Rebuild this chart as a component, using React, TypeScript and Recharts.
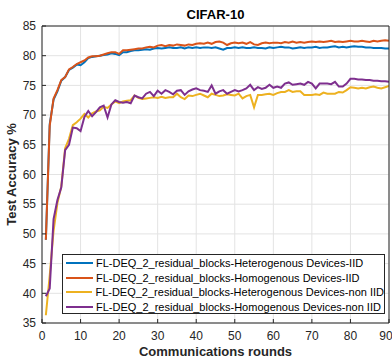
import React from 'react';
import { LineChart, Line, XAxis, YAxis, CartesianGrid, Legend } from 'recharts';

// communication rounds 1..90
const rounds = Array.from({ length: 90 }, (_, i) => i + 1);

const hetIID = [
  49.0, 68.5, 72.6, 74.0, 75.8, 76.4, 77.6, 78.0, 78.5, 78.4,
  78.9, 79.6, 79.8, 79.9, 80.0, 80.1, 80.2, 80.4, 80.3, 80.1,
  80.6, 80.6, 80.8, 80.9, 80.9, 81.0, 81.1, 81.0, 81.2, 81.3,
  81.2, 81.3, 81.4, 81.3, 81.3, 81.4, 81.2, 81.4, 81.3, 81.4,
  81.3, 81.4, 81.4, 81.3, 81.4, 81.2, 81.0, 81.3, 81.3, 81.4,
  81.3, 81.4, 81.3, 81.3, 81.4, 81.3, 81.3, 81.2, 81.4, 81.3,
  81.4, 81.5, 81.4, 81.4, 81.2, 81.3, 81.4, 81.3, 81.4, 81.4,
  81.5, 81.3, 81.4, 81.4, 81.5, 81.6, 81.4, 81.5, 81.4, 81.5,
  81.6, 81.5, 81.5, 81.4, 81.4, 81.3, 81.3, 81.3, 81.2, 81.2,
];

const homIID = [
  49.0, 68.2, 72.8, 74.2, 75.9, 76.4, 77.7, 78.1, 78.6, 78.9,
  79.2, 79.7, 79.9, 79.9, 80.0, 80.2, 80.4, 80.6, 80.6, 80.3,
  80.9, 80.9, 81.0, 81.1, 81.2, 81.2, 81.4, 81.5, 81.4, 81.7,
  81.8, 81.6, 81.8, 81.7, 81.9, 81.8, 81.7, 81.9, 81.8, 82.0,
  82.1, 82.0, 82.2, 82.0, 82.3, 82.4, 82.2, 81.8, 82.1, 82.2,
  82.1, 82.2, 82.0, 82.3, 81.9, 81.8, 82.1, 82.2, 82.1, 82.2,
  82.2, 82.1, 82.3, 82.2, 82.4, 82.2, 82.3, 82.2, 82.3, 82.4,
  82.3, 82.4, 82.3, 82.4, 82.5, 82.3, 82.4, 82.3, 82.4, 82.5,
  82.4, 82.4, 82.5, 82.4, 82.3, 82.5, 82.4, 82.5, 82.6, 82.5,
];

const hetNonIID = [
  36.3, 43.0, 50.5, 55.2, 58.0, 64.4, 66.0, 68.3, 68.8, 69.4,
  70.2, 69.6, 70.3, 70.6, 70.8, 71.4, 71.2, 71.8, 72.3, 72.0,
  72.3, 72.4, 72.5, 73.3, 72.9, 72.7, 72.8, 72.9, 73.0, 72.9,
  73.1, 72.9, 73.0, 73.0, 73.6, 73.0, 72.7, 73.3, 73.2, 73.4,
  73.6, 73.3, 73.0, 73.6, 73.4, 73.2, 73.3, 73.5, 73.4, 73.3,
  73.6, 72.8, 73.2, 73.4, 71.3, 73.4, 73.4, 73.5, 73.6, 73.4,
  73.7, 73.9, 73.9, 74.2, 73.9, 74.0, 74.0, 73.4, 73.4, 73.4,
  73.5, 73.4, 73.8, 73.6, 73.6, 73.6, 73.9, 73.8, 74.2, 74.7,
  74.6, 74.5, 74.6, 74.5, 74.7, 74.8, 74.6, 74.5, 74.7, 74.9,
];

const homNonIID = [
  39.5, 40.8, 52.5, 55.7, 57.8, 64.1, 65.0, 67.9, 67.8, 67.3,
  69.7, 70.7, 69.8, 70.5, 71.3, 71.6, 69.6, 71.8, 72.5, 72.2,
  72.1, 72.2, 72.0, 73.3, 73.0, 72.8, 73.6, 73.9, 73.2, 74.1,
  73.6, 74.2, 73.9, 73.5, 74.1, 74.2, 73.4, 74.0, 74.3, 74.5,
  74.2, 74.1, 73.9, 75.0, 73.6, 74.0, 74.2, 73.6, 73.9, 74.2,
  74.0, 74.2, 74.5, 75.1, 74.2, 74.7, 74.4, 74.6, 75.1, 74.6,
  74.8, 74.6, 75.3, 75.5, 75.1, 75.2, 75.3, 75.1, 75.6, 75.3,
  74.5, 75.3, 75.3, 75.3, 75.2, 75.6, 74.8, 74.8, 75.3, 76.1,
  76.1, 76.0, 76.0, 75.9, 75.9, 75.8, 75.8, 75.7, 75.7, 75.6,
];

const xTicks = [0, 10, 20, 30, 40, 50, 60, 70, 80, 90];
const yTicks = [35, 40, 45, 50, 55, 60, 65, 70, 75, 80, 85];

const series = [
  { key: 'hetIID', name: 'FL-DEQ_2_residual_blocks-Heterogenous Devices-IID', color: '#0072BD' },
  { key: 'homIID', name: 'FL-DEQ_2_residual_blocks-Homogenous Devices-IID', color: '#D95319' },
  { key: 'hetNonIID', name: 'FL-DEQ_2_residual_blocks-Heterogenous Devices-non IID', color: '#EDB120' },
  { key: 'homNonIID', name: 'FL-DEQ_2_residual_blocks-Homogenous Devices-non IID', color: '#7E2F8E' },
];

const data = rounds.map((r, i) => ({
  round: r,
  hetIID: hetIID[i],
  homIID: homIID[i],
  hetNonIID: hetNonIID[i],
  homNonIID: homNonIID[i],
}));

const FONT = '"Liberation Sans", Arial, Helvetica, sans-serif';
const AXIS = '#262626';

const renderLegend = () => (
  <div
    style={{
      width: 323,
      height: 60,
      boxSizing: 'border-box',
      border: `1px solid ${AXIS}`,
      background: '#fff',
      paddingTop: 1,
      fontFamily: FONT,
      fontSize: 11,
      color: '#000',
    }}
  >
    {series.map((s) => (
      <div key={s.key} style={{ display: 'flex', alignItems: 'center', height: 14.5 }}>
        <div style={{ width: 27, height: 2, background: s.color, marginLeft: 3, marginRight: 3 }} />
        <span style={{ whiteSpace: 'nowrap' }}>{s.name}</span>
      </div>
    ))}
  </div>
);

export default function App() {
  const tickStyle = { fill: AXIS, fontSize: 12, fontFamily: FONT };
  return (
    <div style={{ width: 392, height: 360, background: '#fff' }}>
      <style>{'body{margin:0}'}</style>
      <LineChart width={392} height={360} data={data} margin={{ top: 25, right: 0, bottom: 0, left: 0 }}>
        <CartesianGrid stroke="#e3e3e3" strokeWidth={1} />
        <XAxis
          dataKey="round"
          type="number"
          domain={[0, 90]}
          ticks={xTicks}
          height={37}
          allowDataOverflow
          stroke={AXIS}
          tickSize={-4}
          tickMargin={12}
          tick={tickStyle}
          label={{
            value: 'Communications rounds',
            position: 'insideBottom',
            offset: 4,
            style: { fill: AXIS, fontSize: 13, fontWeight: 'bold', fontFamily: FONT },
          }}
        />
        <XAxis
          xAxisId="top"
          orientation="top"
          type="number"
          domain={[0, 90]}
          ticks={xTicks}
          height={1}
          stroke={AXIS}
          tickSize={-4}
          tick={false}
          label={{
            value: 'CIFAR-10',
            position: 'top',
            offset: 6,
            style: { fill: '#000', fontSize: 13, fontWeight: 'bold', fontFamily: FONT },
          }}
        />
        <YAxis
          type="number"
          domain={[35, 85]}
          ticks={yTicks}
          width={42}
          allowDataOverflow
          stroke={AXIS}
          tickSize={-4}
          tickMargin={10}
          tick={tickStyle}
          label={{
            value: 'Test Accuracy %',
            angle: -90,
            position: 'insideLeft',
            offset: 11,
            style: { textAnchor: 'middle', fill: AXIS, fontSize: 13, fontWeight: 'bold', fontFamily: FONT },
          }}
        />
        <YAxis
          yAxisId="right"
          orientation="right"
          type="number"
          domain={[35, 85]}
          ticks={yTicks}
          width={3}
          stroke={AXIS}
          tickSize={-4}
          tick={false}
        />
        {series.map((s) => (
          <Line
            key={s.key}
            type="linear"
            dataKey={s.key}
            name={s.name}
            stroke={s.color}
            strokeWidth={2}
            dot={false}
            isAnimationActive={false}
          />
        ))}
        <Legend
          layout="vertical"
          align="center"
          verticalAlign="middle"
          content={renderLegend}
          wrapperStyle={{ left: 62, top: 254, width: 323, height: 60 }}
        />
      </LineChart>
    </div>
  );
}
